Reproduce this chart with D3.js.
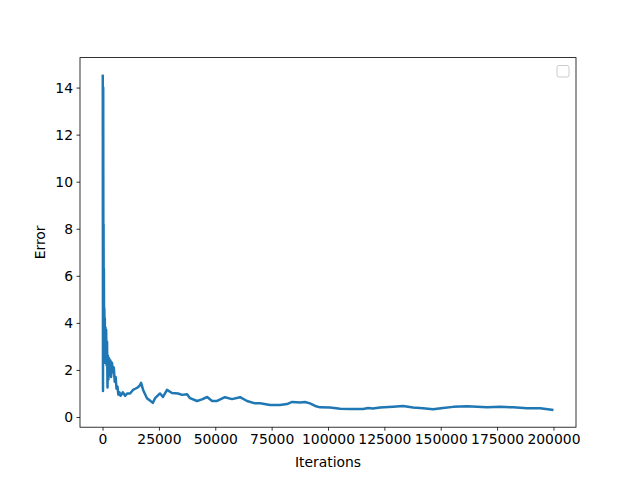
<!DOCTYPE html>
<html>
<head>
<meta charset="utf-8">
<script src="https://cdn.jsdelivr.net/npm/d3@7"></script>
<style>
  html, body { margin: 0; padding: 0; background: #fff; }
  svg { display: block; }
  text { font-family: "DejaVu Sans", sans-serif; fill: #000; }
</style>
</head>
<body>
<svg id="chart" width="640" height="480"></svg>
<script>
// Data
const iterations = [
  0, 100, 200, 300, 380, 450, 520, 600, 700, 800, 900, 1000, 1150, 1300, 1450, 1600, 1800, 2000,
  2200, 2400, 2600, 2900, 3200, 3500, 3800, 4200, 4600, 5000, 5400, 5800, 6200, 6600, 7000, 7500,
  8000, 9000, 10000, 11000, 12200, 13500, 14500, 15500, 16600, 17100, 18000, 19700, 21000, 22300,
  23300, 25500, 26800, 28600, 30800, 33500, 35300, 37500, 38800, 41900, 44100, 46400, 48600, 50800,
  54300, 57400, 61000, 64100, 67600, 69900, 74300, 78700, 81800, 84100, 87600, 89800, 92000, 94300,
  96500, 100900, 105400, 109800, 115600, 117800, 120000, 123100, 128900, 133300, 137700, 142200,
  146600, 151000, 155500, 161700, 166100, 170600, 176300, 182100, 188300, 194100, 200000
];
const errors = [
  14.55, 14.5, 1.1, 14.0, 5.0, 8.2, 4.0, 6.3, 3.0, 4.6, 2.3, 4.2, 2.4, 3.8, 2.3, 3.7, 2.2, 3.2,
  1.25, 2.6, 1.6, 2.5, 1.8, 2.4, 1.7, 2.3, 1.9, 2.1, 1.5, 1.7, 1.2, 1.3, 0.95, 1.05,
  0.9, 1.05, 0.9, 1.0, 1.0, 1.15, 1.2, 1.25, 1.35, 1.45, 1.15, 0.8, 0.7, 0.6,
  0.8, 1.0, 0.85, 1.15, 1.02, 1.0, 0.94, 0.97, 0.8, 0.68, 0.75, 0.85, 0.68, 0.68,
  0.84, 0.76, 0.84, 0.68, 0.58, 0.58, 0.51, 0.51, 0.55, 0.64, 0.62, 0.64, 0.58, 0.47,
  0.41, 0.40, 0.35, 0.34, 0.34, 0.38, 0.36, 0.40, 0.44, 0.47, 0.40, 0.37,
  0.33, 0.38, 0.43, 0.46, 0.44, 0.41, 0.43, 0.41, 0.37, 0.37, 0.30
];
const xTicks = [0, 25000, 50000, 75000, 100000, 125000, 150000, 175000, 200000];
const yTicks = [0, 2, 4, 6, 8, 10, 12, 14];
const xLabel = "Iterations";
const yLabel = "Error";

(function () {
const data = iterations.map((it, i) => ({ x: it, y: errors[i] }));

const mLeft = 80, mRight = 576, mTop = 57.6, mBottom = 427.2;

const svg = d3.select("#chart");

const xMin = d3.min(iterations), xMax = d3.max(iterations);
const xPad = (xMax - xMin) * 0.05;
const yMinD = 0.28, yMaxD = 14.56;
const yPad = (yMaxD - yMinD) * 0.05;

const x = d3.scaleLinear().domain([xMin - xPad, xMax + xPad]).range([mLeft, mRight]);
const y = d3.scaleLinear().domain([yMinD - yPad, yMaxD + yPad]).range([mBottom, mTop]);

svg.append("clipPath").attr("id", "clip").append("rect")
  .attr("x", mLeft).attr("y", mTop).attr("width", mRight - mLeft).attr("height", mBottom - mTop);

svg.append("path")
  .datum(data)
  .attr("clip-path", "url(#clip)")
  .attr("fill", "none")
  .attr("stroke", "#1f77b4")
  .attr("stroke-width", 2.5)
  .attr("stroke-linejoin", "round")
  .attr("stroke-linecap", "butt")
  .attr("d", d3.line().x(d => x(d.x)).y(d => y(d.y)));

const xAxis = d3.axisBottom(x).tickValues(xTicks).tickFormat(d3.format("d")).tickSizeOuter(0).tickSize(3.5).tickPadding(3.5);
const yAxis = d3.axisLeft(y).tickValues(yTicks).tickFormat(d3.format("d")).tickSizeOuter(0).tickSize(3.5).tickPadding(3.5);

const gx = svg.append("g").attr("transform", `translate(0,${mBottom})`).call(xAxis);
const gy = svg.append("g").attr("transform", `translate(${mLeft},0)`).call(yAxis);
[gx, gy].forEach(g => {
  g.select(".domain").remove();
  g.selectAll(".tick line").attr("stroke", "#000").attr("stroke-width", 0.8);
  g.selectAll(".tick text").attr("font-family", "DejaVu Sans").attr("font-size", "13.9px").attr("fill", "#000");
});

svg.append("rect")
  .attr("x", mLeft).attr("y", mTop).attr("width", mRight - mLeft).attr("height", mBottom - mTop)
  .attr("fill", "none").attr("stroke", "#000").attr("stroke-width", 0.8);

svg.append("text").attr("x", (mLeft + mRight) / 2).attr("y", 467)
  .attr("text-anchor", "middle").attr("font-size", "13.9px").text(xLabel);
svg.append("text").attr("transform", `translate(45,${(mTop + mBottom) / 2}) rotate(-90)`)
  .attr("text-anchor", "middle").attr("font-size", "13.9px").text(yLabel);

svg.append("rect")
  .attr("x", 557).attr("y", 65.5).attr("width", 12).attr("height", 11.5)
  .attr("rx", 2).attr("ry", 2)
  .attr("fill", "#fff").attr("fill-opacity", 0.8)
  .attr("stroke", "#cccccc").attr("stroke-width", 1);
})();
</script>
</body>
</html>
